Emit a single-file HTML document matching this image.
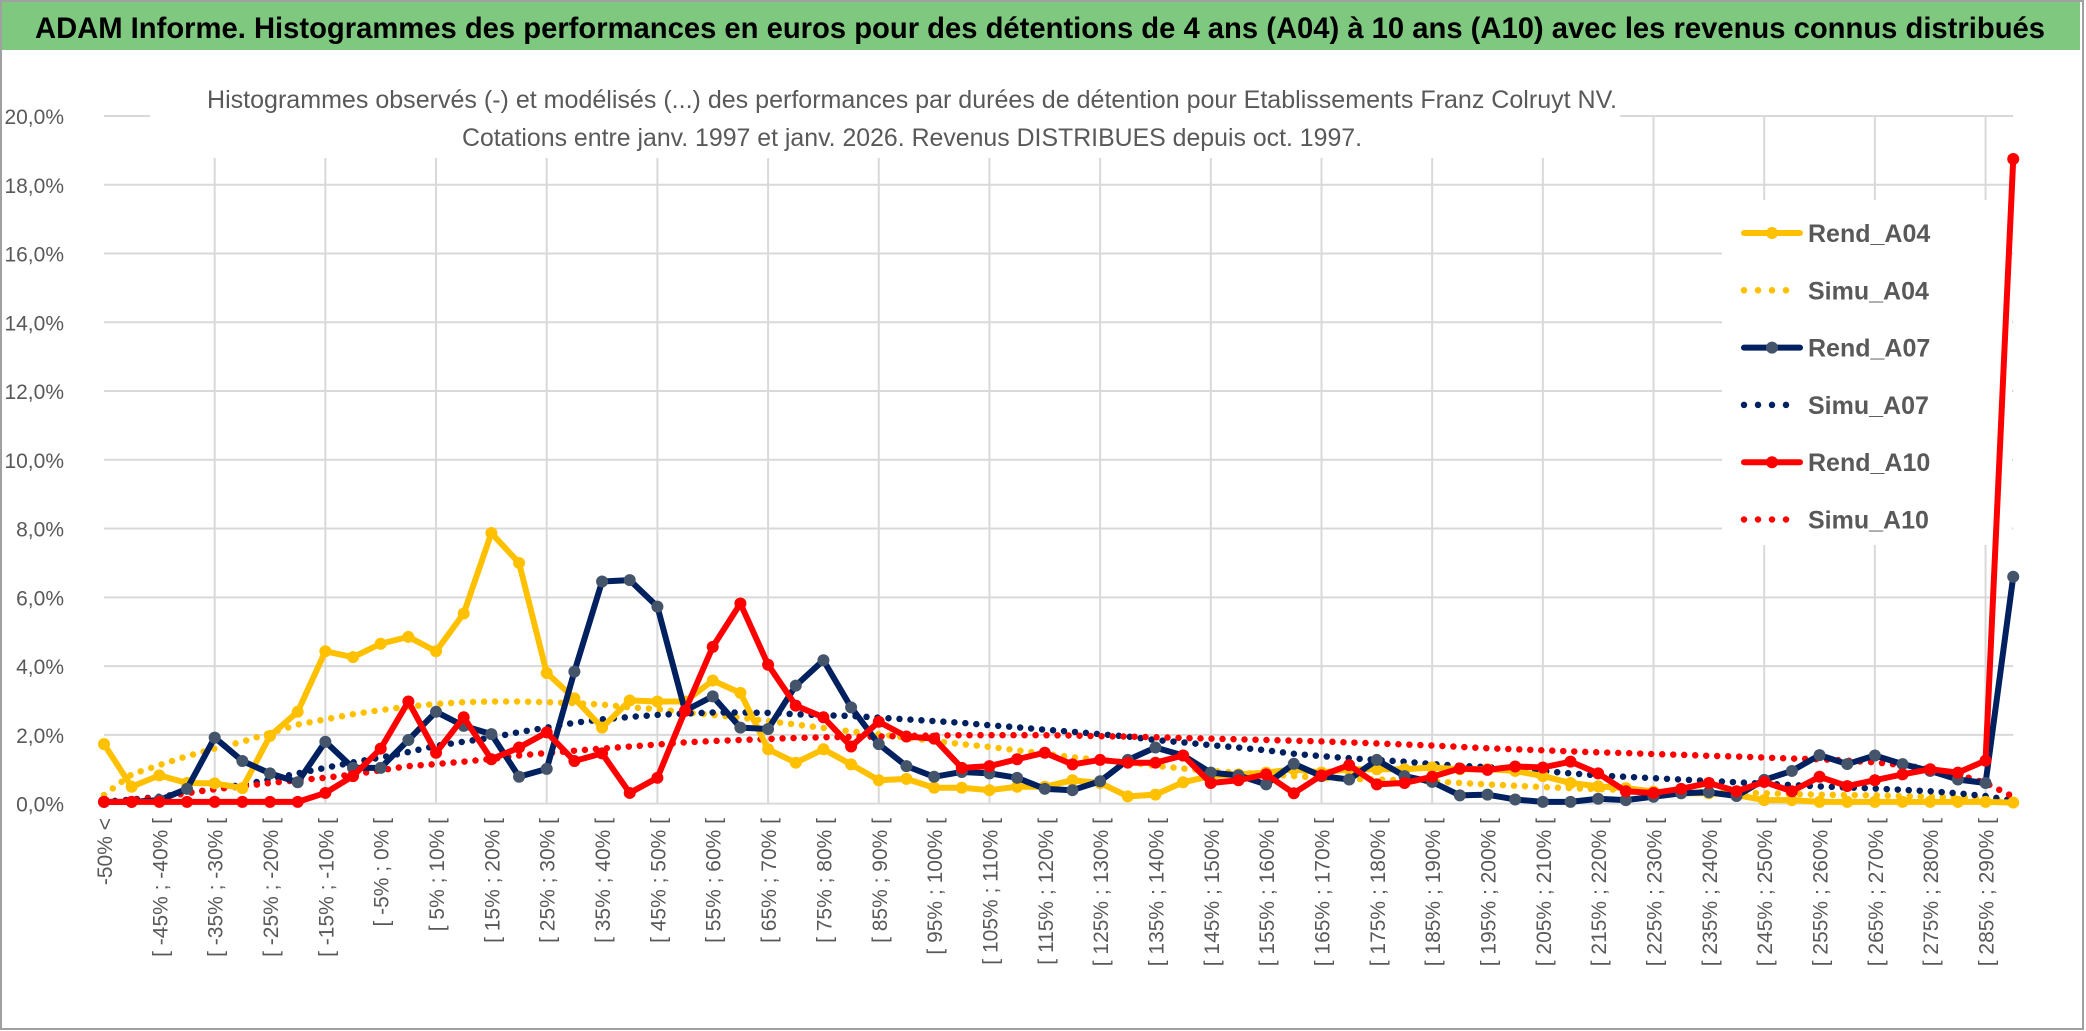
<!DOCTYPE html>
<html><head><meta charset="utf-8"><style>
html,body{margin:0;padding:0;background:#fff;}
svg{display:block;font-family:"Liberation Sans",sans-serif;}
</style></head><body>
<svg id="chart" width="2086" height="1031" viewBox="0 0 2086 1031">
<rect x="0" y="0" width="2086" height="1031" fill="#fff"/>
<rect x="1" y="1" width="2082" height="1028" fill="none" stroke="#a0a0a0" stroke-width="2"/>
<rect x="2" y="2" width="2078" height="48" fill="#7ec97f"/>
<text x="1040" y="38" text-anchor="middle" font-size="30" font-weight="bold" fill="#000" textLength="2010" lengthAdjust="spacingAndGlyphs">ADAM Informe. Histogrammes des performances en euros pour des détentions de 4 ans (A04) à 10 ans (A10) avec les revenus connus distribués</text>
<g id="grid"></g>
<rect x="150" y="80" width="1470" height="78" fill="#fff"/>
<text x="912" y="108" text-anchor="middle" font-size="25" fill="#595959" textLength="1410" lengthAdjust="spacingAndGlyphs">Histogrammes observés (-) et modélisés (...) des performances par durées de détention pour Etablissements Franz Colruyt NV.</text>
<text x="912" y="146" text-anchor="middle" font-size="25" fill="#595959" textLength="900" lengthAdjust="spacingAndGlyphs">Cotations entre janv. 1997 et janv. 2026. Revenus DISTRIBUES depuis oct. 1997.</text>
<g id="yaxis"></g>
<g id="xaxis"></g>
<rect x="1722" y="200" width="290" height="345" fill="#fff"/>
<g id="series"></g>
<g id="legend"></g>
</svg>
<script>
const categories = (function(){const c=["-50% <"];for(let a=-50;a<290;a+=5){c.push("[ "+a+"% ; "+(a+5)+"% [");}c.push("> 290%");return c;})();
const yTicks = [0,2,4,6,8,10,12,14,16,18,20];
const rendA04 = [1.73,0.49,0.82,0.6,0.59,0.45,1.97,2.67,4.43,4.26,4.65,4.85,4.43,5.53,7.87,7.0,3.8,3.06,2.21,3.0,2.97,2.97,3.58,3.22,1.58,1.19,1.58,1.14,0.68,0.72,0.46,0.46,0.39,0.49,0.49,0.68,0.6,0.21,0.26,0.62,0.8,0.85,0.9,1.0,0.9,1.0,1.0,1.0,1.05,1.0,1.0,0.95,0.8,0.6,0.5,0.45,0.35,0.3,0.3,0.25,0.1,0.1,0.05,0.05,0.05,0.05,0.05,0.05,0.05,0.03];
const simuA04 = [0.25,0.85,1.12,1.38,1.6,1.8,2.05,2.3,2.45,2.6,2.72,2.82,2.9,2.95,2.97,2.97,2.95,2.92,2.88,2.8,2.75,2.65,2.58,2.5,2.4,2.3,2.2,2.1,2.02,1.92,1.82,1.73,1.65,1.55,1.45,1.35,1.27,1.2,1.1,1.02,0.95,0.9,0.85,0.8,0.75,0.72,0.7,0.68,0.65,0.6,0.56,0.52,0.48,0.45,0.42,0.4,0.37,0.35,0.33,0.32,0.3,0.28,0.26,0.25,0.24,0.22,0.2,0.18,0.15,0.05];
const rendA07 = [0.05,0.05,0.1,0.43,1.92,1.24,0.88,0.62,1.8,1.04,1.04,1.85,2.67,2.26,2.02,0.78,1.01,3.84,6.46,6.5,5.73,2.7,3.12,2.21,2.17,3.43,4.17,2.8,1.73,1.09,0.78,0.92,0.88,0.75,0.43,0.39,0.65,1.27,1.63,1.4,0.9,0.82,0.56,1.16,0.8,0.7,1.27,0.8,0.63,0.24,0.26,0.12,0.05,0.05,0.14,0.1,0.2,0.3,0.33,0.22,0.69,0.95,1.41,1.15,1.4,1.15,0.95,0.7,0.6,6.6];
const simuA07 = [0.05,0.12,0.2,0.31,0.42,0.55,0.7,0.88,1.04,1.2,1.34,1.5,1.68,1.8,1.92,2.08,2.21,2.35,2.45,2.52,2.58,2.62,2.65,2.65,2.64,2.6,2.57,2.55,2.5,2.45,2.4,2.35,2.28,2.22,2.15,2.09,2.02,1.95,1.85,1.78,1.7,1.63,1.55,1.45,1.38,1.32,1.27,1.22,1.15,1.1,1.06,1.0,0.95,0.88,0.82,0.78,0.74,0.7,0.66,0.62,0.58,0.54,0.5,0.47,0.44,0.4,0.36,0.3,0.22,0.08];
const rendA10 = [0.05,0.05,0.05,0.05,0.05,0.05,0.05,0.05,0.31,0.8,1.6,2.97,1.48,2.51,1.29,1.63,2.07,1.24,1.46,0.31,0.75,2.7,4.56,5.82,4.04,2.85,2.51,1.66,2.38,1.95,1.89,1.04,1.09,1.29,1.48,1.14,1.27,1.19,1.19,1.4,0.6,0.68,0.85,0.3,0.82,1.12,0.56,0.6,0.78,1.02,0.98,1.08,1.05,1.22,0.88,0.36,0.31,0.43,0.6,0.36,0.63,0.36,0.78,0.51,0.68,0.85,1.0,0.9,1.25,18.75];
const simuA10 = [0.02,0.1,0.18,0.3,0.42,0.5,0.6,0.68,0.75,0.85,0.97,1.09,1.15,1.22,1.3,1.4,1.47,1.54,1.6,1.66,1.72,1.78,1.82,1.85,1.88,1.91,1.93,1.94,1.95,1.97,1.98,1.99,1.99,1.99,1.99,1.98,1.96,1.95,1.93,1.91,1.89,1.87,1.85,1.83,1.81,1.78,1.75,1.72,1.69,1.65,1.61,1.58,1.55,1.52,1.49,1.47,1.44,1.42,1.39,1.37,1.34,1.31,1.29,1.25,1.2,1.12,1.0,0.85,0.6,0.2];

const NS="http://www.w3.org/2000/svg";
const X0=104, STEP=27.67, Y0=803.6, PPU=34.38;
function xScale(i){return X0+i*STEP;}
function yScale(v){return Y0-v*PPU;}
function mk(tag,attrs,parent){const e=document.createElementNS(NS,tag);for(const k in attrs)e.setAttribute(k,attrs[k]);parent.appendChild(e);return e;}

const grid=document.getElementById('grid');
yTicks.forEach(function(t){
  const l=mk('line',{x1:X0,x2:xScale(categories.length-1),y1:yScale(t),y2:yScale(t),stroke:'#d9d9d9','stroke-width':2},grid);
  
  
});
for(let i=4;i<categories.length;i+=4){
  const l=mk('line',{x1:xScale(i),x2:xScale(i),y1:yScale(20),y2:Y0,stroke:'#d9d9d9','stroke-width':2},grid);
  
  
}
const yax=document.getElementById('yaxis');
yTicks.forEach(function(t){
  const tx=mk('text',{x:64,y:yScale(t)+8,'text-anchor':'end','font-size':21,fill:'#595959'},yax);
  tx.textContent=t.toFixed(1).replace('.',',')+'%';
  
  
});
const xax=document.getElementById('xaxis');
for(let i=0;i<categories.length;i+=2){
  const x=xScale(i)+8, y=818;
  const tx=mk('text',{x:x,y:y,'text-anchor':'end','font-size':21,fill:'#595959',transform:'rotate(-90 '+x+' '+y+')'},xax);
  tx.textContent=categories[i];
  
  
}
const ser=document.getElementById('series');
function dotted(data,color,name){
  const p=mk('polyline',{points:data.map(function(v,i){return xScale(i)+','+yScale(v);}).join(' '),fill:'none',stroke:color,'stroke-width':6.5,'stroke-linecap':'round','stroke-dasharray':'0 11'},ser);
  
  
}
function solid(data,color,mcolor,name){
  const g=mk('g',{},ser);
  
  
  mk('polyline',{points:data.map(function(v,i){return xScale(i)+','+yScale(v);}).join(' '),fill:'none',stroke:color,'stroke-width':6,'stroke-linejoin':'round'},g);
  data.forEach(function(v,i){
    const c=mk('circle',{cx:xScale(i),cy:yScale(v),r:6,fill:mcolor},g);
    
    
  });
}
dotted(simuA04,'#ffc000','simu-a04-line');
dotted(simuA07,'#002060','simu-a07-line');
dotted(simuA10,'#ff0000','simu-a10-line');
solid(rendA04,'#ffc000','#ffc000','rend-a04-line');
solid(rendA07,'#002060','#44546a','rend-a07-line');
solid(rendA10,'#ff0000','#ff0000','rend-a10-line');

const leg=document.getElementById('legend');
const legendNames=['Rend_A04','Simu_A04','Rend_A07','Simu_A07','Rend_A10','Simu_A10'];
const legendColors=['#ffc000','#ffc000','#002060','#002060','#ff0000','#ff0000'];
legendNames.forEach(function(n,k){
  const y=233+k*57.3;
  const g=mk('g',{},leg);
  
  
  if(k%2===0){
    mk('line',{x1:1744,x2:1800,y1:y,y2:y,stroke:legendColors[k],'stroke-width':6,'stroke-linecap':'round'},g);
    mk('circle',{cx:1772,cy:y,r:6,fill:k===2?'#44546a':legendColors[k]},g);
  } else {
    mk('line',{x1:1744,x2:1800,y1:y,y2:y,stroke:legendColors[k],'stroke-width':6.5,'stroke-linecap':'round','stroke-dasharray':'0 14'},g);
  }
  const t=mk('text',{x:1808,y:y+9,'font-size':25,'font-weight':'bold',fill:'#595959'},g);
  t.textContent=n;
});
</script>
</body></html>
